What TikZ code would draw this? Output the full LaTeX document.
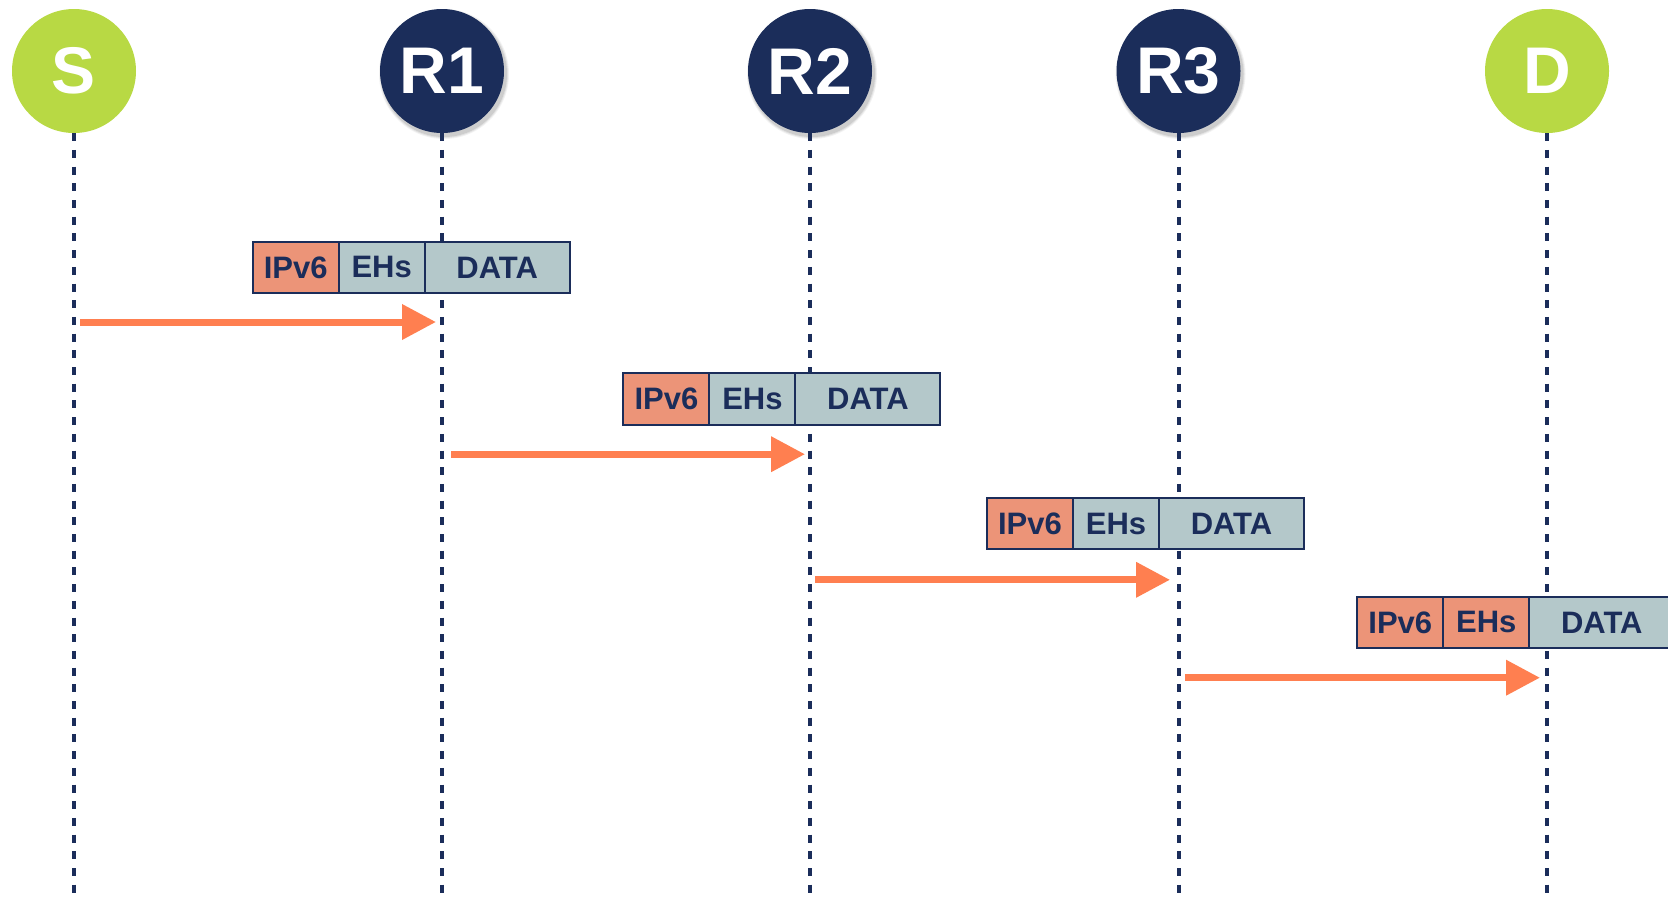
\documentclass[tikz,border=0pt]{standalone}
\usepackage{fontspec}
\setmainfont{Liberation Sans}
\usetikzlibrary{arrows.meta,positioning}
\definecolor{navy}{RGB}{27,45,90}
\definecolor{lime}{RGB}{184,217,68}
\definecolor{salmon}{RGB}{236,148,120}
\definecolor{slate}{RGB}{180,200,202}
\definecolor{coral}{RGB}{255,127,80}
\tikzset{
  hostnode/.style={circle, fill=lime, minimum size=124pt, inner sep=0pt, text=white,
    font=\bfseries\fontsize{66}{66}\selectfont},
  routernode/.style={circle, fill=navy, minimum size=124pt, inner sep=0pt, text=white,
    font=\bfseries\fontsize{66}{66}\selectfont},
  lifeline/.style={draw=navy, line width=4pt, dash pattern=on 8pt off 8.7pt},
  cell/.style={draw=navy, line width=2pt, minimum height=51.5pt, inner sep=0pt, outer sep=0pt,
    anchor=north west, text=navy, font=\bfseries\fontsize{31}{31}\selectfont},
  ipcell/.style={cell, fill=salmon, minimum width=86pt},
  ehcell/.style={cell, fill=slate, minimum width=86pt},
  ehred/.style={cell, fill=salmon, minimum width=86pt},
  datacell/.style={cell, fill=slate, minimum width=145pt},
  hop/.style={draw=coral, line width=7pt, -{Triangle[length=34pt,width=34pt]}}
}
\begin{document}
\begin{tikzpicture}[x=1pt,y=-1pt]
\useasboundingbox (0,0) rectangle (1668,898);
% shadows for routers
\foreach \cx in {442,810,1178.5}{
  \foreach \s/\o in {3/0.05,2/0.07,1/0.09}{
    \fill[black,opacity=\o] (\cx+2,71+3) circle (62+\s);
  }
}
% nodes
\node[hostnode] (S) at (74,71) {S};
\node[routernode] (R1) at (442,71) {R1};
\node[routernode] (R2) at (810,71) {R2};
\node[routernode] (R3) at (1178.5,71) {R3};
\node[hostnode] (D) at (1547,71) {D};
% lifelines
\coordinate (Sb) at (74,915);
\coordinate (R1b) at (442,915);
\coordinate (R2b) at (810,915);
\coordinate (R3b) at (1178.5,915);
\coordinate (Db) at (1547,915);
\foreach \n in {S,R1,R2,R3,D}{
  \draw[lifeline] (\n.south) -- (\n b);
}
% packets
\node[ipcell] (p1ip) at (252.7,241.7) {IPv6};
\node[ehcell] (p1eh) at (p1ip.north east) {EHs};
\node[datacell] (p1da) at (p1eh.north east) {DATA};

\node[ipcell] (p2ip) at (623.4,373.4) {IPv6};
\node[ehcell] (p2eh) at (p2ip.north east) {EHs};
\node[datacell] (p2da) at (p2eh.north east) {DATA};

\node[ipcell] (p3ip) at (987,497.9) {IPv6};
\node[ehcell] (p3eh) at (p3ip.north east) {EHs};
\node[datacell] (p3da) at (p3eh.north east) {DATA};

\node[ipcell] (p4ip) at (1357.3,596.7) {IPv6};
\node[ehred] (p4eh) at (p4ip.north east) {EHs};
\node[datacell] (p4da) at (p4eh.north east) {DATA};
% hop arrows
\coordinate (a1s) at (80,322);   \coordinate (a1e) at (436,322);
\coordinate (a2s) at (451,454.2); \coordinate (a2e) at (805,454.2);
\coordinate (a3s) at (815,579.8); \coordinate (a3e) at (1170,579.8);
\coordinate (a4s) at (1185,677.7); \coordinate (a4e) at (1540,677.7);
\draw[hop] (a1s) -- (a1e);
\draw[hop] (a2s) -- (a2e);
\draw[hop] (a3s) -- (a3e);
\draw[hop] (a4s) -- (a4e);
\end{tikzpicture}
\end{document}
